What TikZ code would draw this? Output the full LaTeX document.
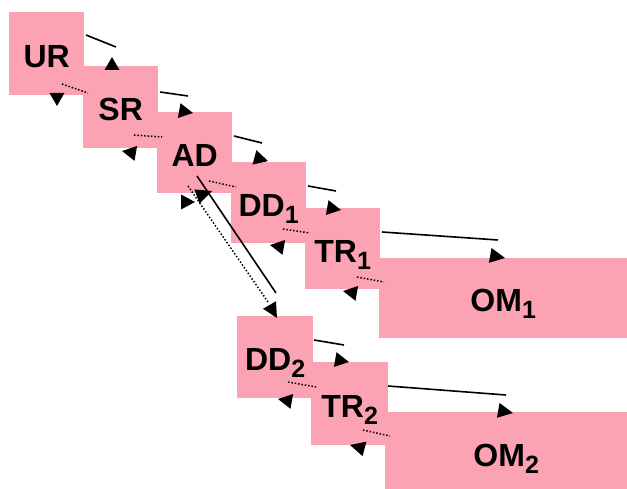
\documentclass[tikz,border=0pt]{standalone}
\usepackage{fontspec}
\setmainfont{Liberation Sans}
\definecolor{boxpink}{RGB}{252,163,179}
\newcommand{\lowidx}[1]{\raisebox{-7pt}{\fontsize{25}{25}\selectfont #1}}
\tikzset{
	box/.style={fill=boxpink, inner sep=0pt, anchor=north west,
		font=\fontsize{32}{38}\bfseries\selectfont, text height=27pt, text depth=0pt},
	fwd/.style={line width=1.6pt},
	back/.style={line width=1.5pt, dash pattern=on 1.5pt off 1.9pt},
	head/.style={fill=black}
}

\begin{document}
\begin{tikzpicture}[x=1pt,y=-1pt]
	\useasboundingbox (0,0) rectangle (627,489);
	% boxes
	\node[box, minimum width=75pt, minimum height=83pt] (UR) at (9,12) {UR};
	\node[box, minimum width=75pt, minimum height=82pt] (SR) at (83,66) {SR};
	\node[box, minimum width=75pt, minimum height=81pt] (AD) at (157,112) {AD};
	\node[box, minimum width=75pt, minimum height=81pt] (DD1) at (231,162) {DD\lowidx{1}};
	\node[box, minimum width=75pt, minimum height=81pt] (TR1) at (305,208) {TR\lowidx{1}};
	\node[box, minimum width=248pt, minimum height=80pt] (OM1) at (379,258) {OM\lowidx{1}};
	\node[box, minimum width=76pt, minimum height=82pt] (DD2) at (237,316) {DD\lowidx{2}};
	\node[box, minimum width=77pt, minimum height=83pt] (TR2) at (311,362) {TR\lowidx{2}};
	\node[box, minimum width=242pt, minimum height=77pt, text height=32pt] (OM2) at (385,412) {OM\lowidx{2}};

	% loose ends of the connectors
	\foreach \n/\x/\y in {ursr/86/35, ursrE/116/47, srad/160/92, sradE/188/96,
		addd/234/136, adddE/262/143, ddtr/308/186, ddtrE/336/191,
		trom/382/232, tromE/498/240, adtwo/197/176, adtwoE/276/293,
		ddtrtwo/314/340, ddtrtwoE/344/345, tromtwo/388/386, tromtwoE/506/395}
		\coordinate (\n) at (\x,\y);
	\foreach \n/\x/\y in {srur/62/84, srurE/88/93, adsr/134/135, adsrE/162/137,
		ddad/209/181, ddadE/236/187, trdd/283/229, trddE/310/233,
		omtr/357/277, omtrE/384/282, twoad/188/186, twoadE/268/302,
		trddtwo/288/382, trddtwoE/316/387, omtrtwo/363/430, omtrtwoE/390/436}
		\coordinate (\n) at (\x,\y);

	% forward links
	\draw[fwd] (ursr) -- (ursrE);
	\draw[fwd] (srad) -- (sradE);
	\draw[fwd] (addd) -- (adddE);
	\draw[fwd] (ddtr) -- (ddtrE);
	\draw[fwd] (trom) -- (tromE);
	\draw[fwd] (adtwo) -- (adtwoE);
	\draw[fwd] (ddtrtwo) -- (ddtrtwoE);
	\draw[fwd] (tromtwo) -- (tromtwoE);
	% backward links
	\draw[back] (srur) -- (srurE);
	\draw[back] (adsr) -- (adsrE);
	\draw[back] (ddad) -- (ddadE);
	\draw[back] (trdd) -- (trddE);
	\draw[back] (omtr) -- (omtrE);
	\draw[back] (twoad) -- (twoadE);
	\draw[back] (trddtwo) -- (trddtwoE);
	\draw[back] (omtrtwo) -- (omtrtwoE);

	% arrow heads (tip x / tip y / direction / length)
	\foreach \x/\y/\a/\l in {112/57/90/13, 57/106/270/13, 193/113/-10/14, 122/151/170/14,
		268/161/-15/14, 212/191/20/16, 195/202/0/14, 341/210/-10/14, 270/245/170/14,
		505/258/-10/15, 343/291/170/14, 277/318/-60/15, 349/362/-10/14,
		278/399/170/14, 513/413/-10/15, 350/445/165/15}
		\fill[head, shift={(\x,\y)}, rotate=\a] (0,0) -- (-\l,-7.5) -- (-\l,7.5) -- cycle;
\end{tikzpicture}
\end{document}
